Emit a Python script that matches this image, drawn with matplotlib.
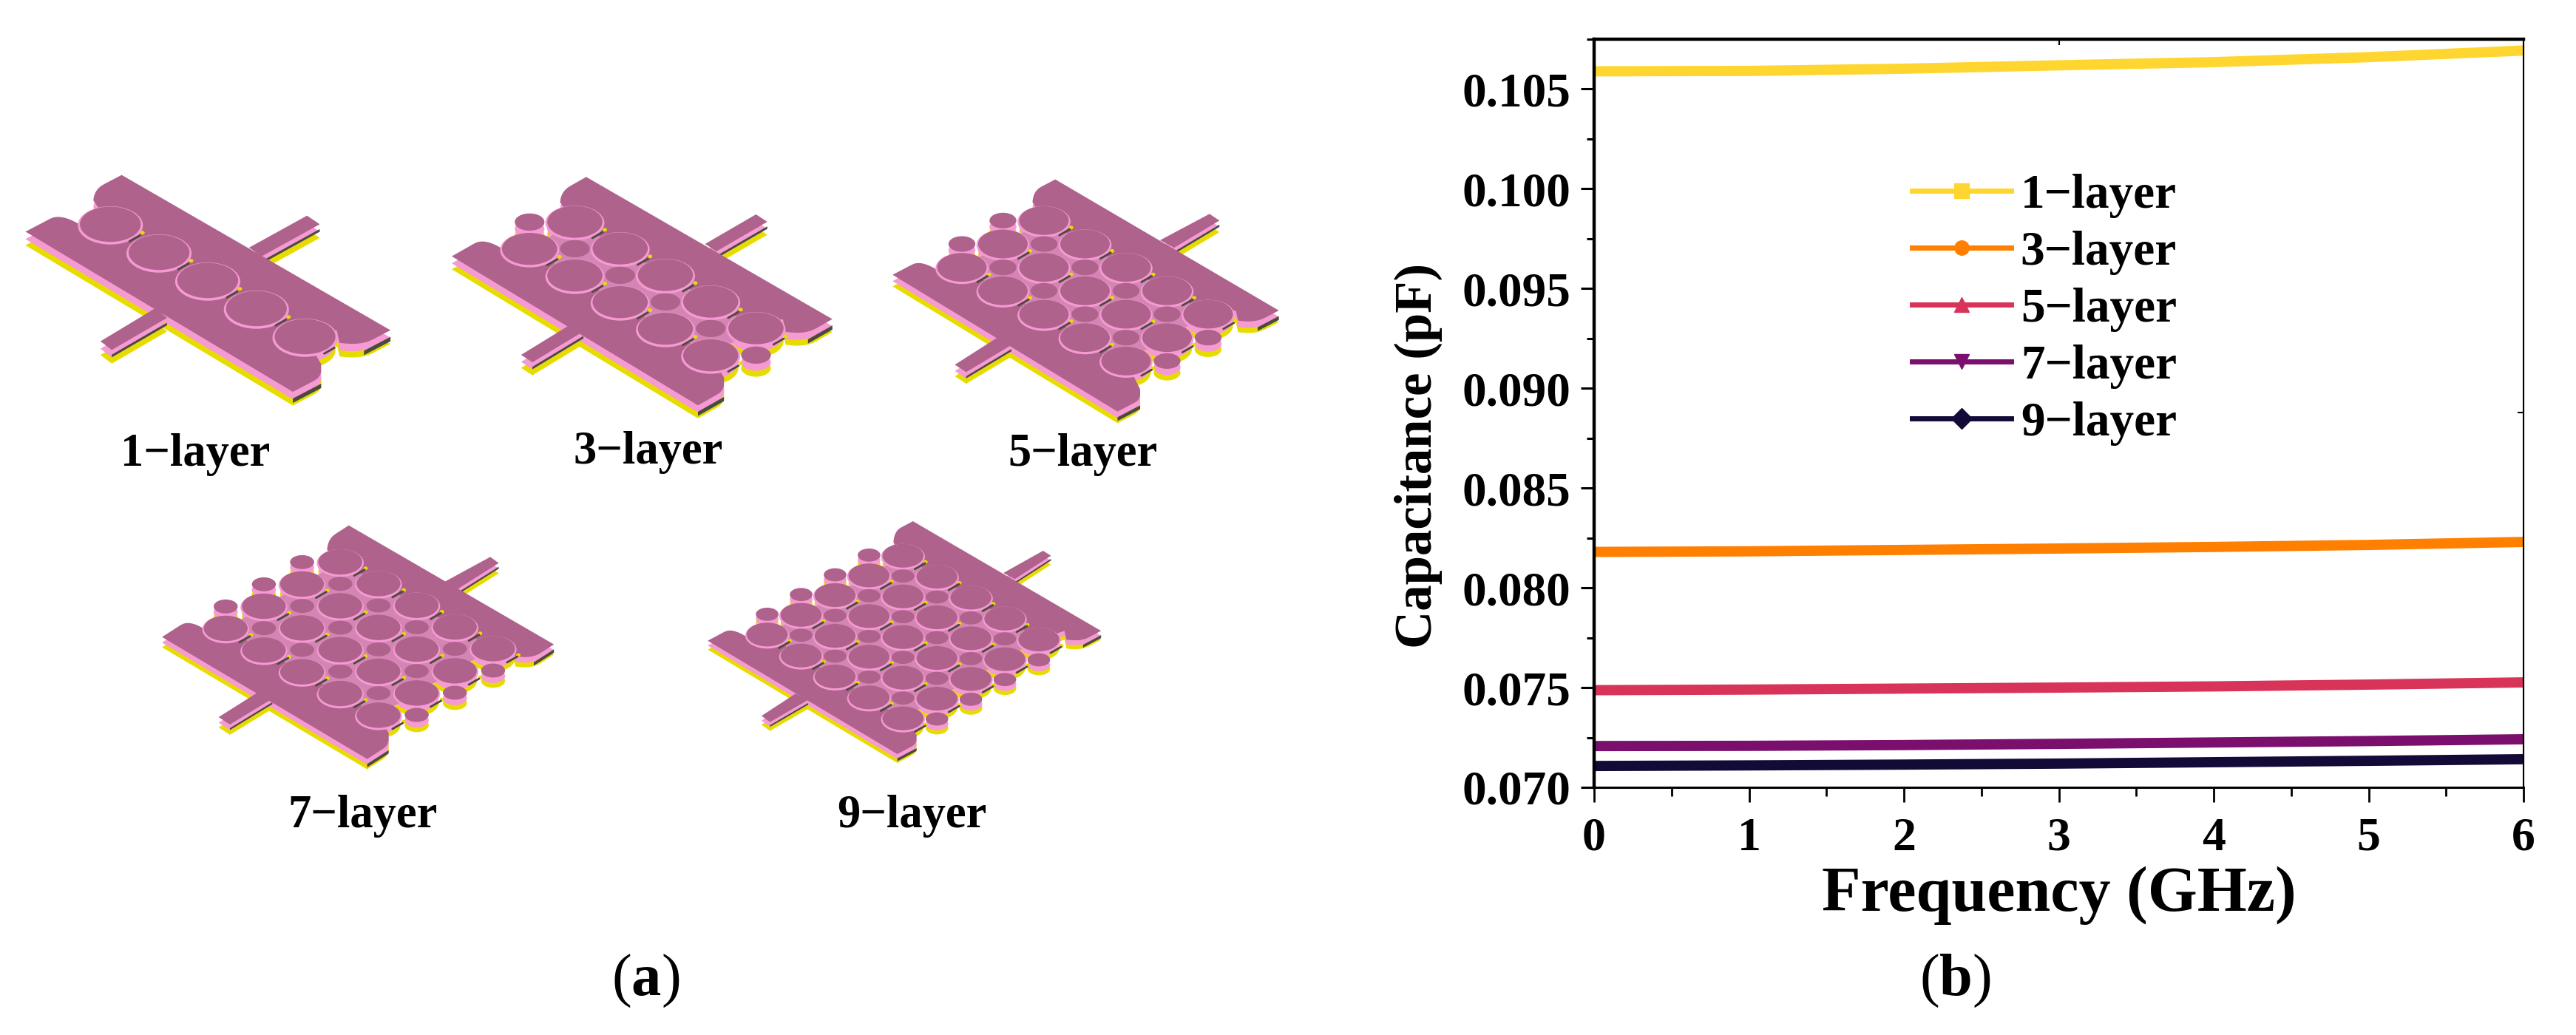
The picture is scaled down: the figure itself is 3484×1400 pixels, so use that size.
import numpy as np
import matplotlib
matplotlib.use("Agg")
import matplotlib.pyplot as plt
from matplotlib.lines import Line2D
from matplotlib.patches import Ellipse, Polygon
from matplotlib.ticker import MultipleLocator, FormatStrFormatter

plt.rcParams['font.family'] = ['Liberation Serif', 'DejaVu Serif']
plt.rcParams['mathtext.fontset'] = 'custom'
plt.rcParams['mathtext.bf'] = 'Liberation Serif:bold'
plt.rcParams['mathtext.rm'] = 'Liberation Serif'

# chart data
freq = [0, 1, 2, 3, 4, 5, 6]
layer_labels = ['1\u2212layer', '3\u2212layer', '5\u2212layer', '7\u2212layer', '9\u2212layer']
cap_1 = [0.10589, 0.10591, 0.10602, 0.10619, 0.10635, 0.10660, 0.10693]
cap_3 = [0.08180, 0.08183, 0.08190, 0.08197, 0.08205, 0.08215, 0.08230]
cap_5 = [0.07487, 0.07490, 0.07495, 0.07500, 0.07506, 0.07515, 0.07526]
cap_7 = [0.07207, 0.07208, 0.07212, 0.07218, 0.07225, 0.07232, 0.07241]
cap_9 = [0.07107, 0.07110, 0.07114, 0.07119, 0.07126, 0.07133, 0.07141]
caps = [cap_1, cap_3, cap_5, cap_7, cap_9]

colors = ['#FFD62F', '#FF7F00', '#D83358', '#7A0F6E', '#140A38']
markers = ['s', 'o', '^', 'v', 'D']

MAUVE = '#AF628C'
PINK = '#F59AD2'
GAP = '#D585B4'
YELLOW = '#E6DC00'
DARK = '#4B4A3E'

# schematic outlines, measured on the reference
boards = [
    dict(org=(0, 200), L=(90, 340), T=(430, 110), R=(1380, 740), B=(1035, 990),
         base=(390, 310), S=(172, 114), Tv=(172, -114), rows=0, big=215, small=0,
         f=(125, -75), t=10,
         fb=[(550, 650), (355, 785), (395, 820), (590, 690)],
         ft=[(880, 405), (1085, 275), (1130, 310), (925, 440)]),
    dict(org=(590, 210), L=(55, 410), T=(530, 88), R=(1400, 665), B=(925, 1015),
         base=(330, 380), S=(160, 108), Tv=(160, -110), rows=1, big=195, small=105,
         f=(115, -75), t=9.5,
         fb=[(470, 690), (300, 810), (340, 840), (520, 715)],
         ft=[(950, 360), (1130, 240), (1170, 270), (990, 390)]),
    dict(org=(1190, 210), L=(45, 485), T=(620, 98), R=(1410, 630), B=(840, 1040),
         base=(290, 455), S=(145, 95), Tv=(145, -95), rows=2, big=175, small=95,
         f=(100, -60), t=8.5,
         fb=[(415, 740), (265, 850), (305, 880), (465, 770)],
         ft=[(990, 345), (1165, 238), (1200, 265), (1040, 375)]),
    dict(org=(200, 690), L=(50, 515), T=(710, 62), R=(1435, 545), B=(775, 1010),
         base=(275, 480), S=(135, 88), Tv=(135, -90), rows=3, big=155, small=85,
         f=(95, -70), t=7.5,
         fb=[(395, 735), (250, 840), (290, 870), (440, 765)],
         ft=[(1050, 290), (1210, 190), (1240, 215), (1095, 320)]),
    dict(org=(940, 690), L=(45, 530), T=(770, 45), R=(1435, 490), B=(715, 990),
         base=(255, 505), S=(120, 85), Tv=(120, -80), rows=4, big=145, small=80,
         f=(85, -52), t=6.5,
         fb=[(355, 745), (235, 835), (265, 860), (400, 770)],
         ft=[(1090, 255), (1230, 165), (1258, 185), (1130, 280)]),
]
label_pos = [(264, 615), (877, 612), (1464, 615), (491, 1104), (1233, 1104)]


def bez(p0, c, p2, n=8):
    s = np.linspace(0, 1, n)[:, None]
    return (1 - s) ** 2 * p0 + 2 * s * (1 - s) * c + s ** 2 * p2


def draw_board(ax, b):
    org = np.array(b['org'], float)
    scale = np.array([2.613, 3.0])

    def px(p):
        return org + np.array(p, float) / scale

    L, T, R, B = px(b['L']), px(b['T']), px(b['R']), px(b['B'])
    base, S, Tv = px(b['base']), np.array(b['S']) / scale, np.array(b['Tv']) / scale
    f = np.array(b['f']) / scale
    U = B - L
    t = b['t']
    rows = b['rows']

    first0, last0 = base, base + 4 * S
    firstJ, lastJ = base + rows * Tv, base + 4 * S + rows * Tv

    # lower and upper strips with rounded fingers
    tip = L + f
    lr = B + 0.8 * f
    lower = np.vstack([L, L + 0.7 * f, bez(L + 0.7 * f, tip, tip + U * 0.07), first0, last0,
                       lr + f * [0, 1.0] * 0.7, bez(lr + f * [0, 0.4], lr, B + 0.6 * f), B])
    tip2 = T - 0.78 * f
    upper = np.vstack([T, T - 0.5 * f, bez(T - 0.5 * f, tip2, tip2 + np.array([-1, 15])), firstJ, lastJ,
                       R - f * [1.52, 0], bez(R - f * [1.44, 0.68], R - 0.85 * f, R - 0.5 * f), R])
    feeds = [np.array([px(p) for p in b['fb']]), np.array([px(p) for p in b['ft']])]
    polys = [feeds[0], feeds[1], lower, upper]

    rb = b['big'] / 2.613
    rs = b['small'] / 2.613
    bigs = [base + i * S + j * Tv for j in range(rows + 1) for i in range(5)]
    smalls = [base + (i + 0.5) * S + (j + 0.5) * Tv for j in range(rows) for i in range(-1, 5)]

    # side walls
    for k, col in [(1.85, YELLOW), (1.0, PINK)]:
        off = np.array([0, k * t])
        for p in polys:
            ax.add_patch(Polygon(p + off, closed=True, fc=col, ec='none'))
        for c in bigs:
            ax.add_patch(Ellipse(c + off, rb, rb * 0.58, fc=col, ec='none'))
        for c in smalls:
            ax.add_patch(Ellipse(c + off, rs, rs * 0.58, fc=col, ec='none'))

    # dark end faces on the sides looking right
    for p0, p1 in [(B, B + 0.8 * f), (R, R - 0.75 * f)]:
        face = np.array([p0 + [0, 0.9 * t], p1 + [0, 0.9 * t], p1 + [0, 1.5 * t], p0 + [0, 1.5 * t]])
        ax.add_patch(Polygon(face, closed=True, fc=DARK, ec='none'))
    for fd in feeds:
        face = np.array([fd[2] + [0, 0.65 * t], fd[3] + [0, 0.65 * t], fd[3] + [0, 1.0 * t], fd[2] + [0, 1.0 * t]])
        ax.add_patch(Polygon(face, closed=True, fc=DARK, ec='none'))

    for p in polys:
        ax.add_patch(Polygon(p, closed=True, fc=MAUVE, ec='none'))

    if rows > 0:
        ax.add_patch(Polygon(np.array([first0, last0, lastJ, firstJ]), closed=True, fc=GAP, ec='none'))

    # rings and small gaps round the islands
    for c in bigs:
        ax.add_patch(Ellipse(c + [0, 1.5], rb * 1.07, rb * 0.63, fc=PINK, ec='none'))
    for c in bigs:
        gap = c + 0.5 * S
        ax.plot([gap[0] - 7, gap[0] + 7], [gap[1] + 4, gap[1] - 4], color=DARK, lw=2.0, solid_capstyle='round')
        g2 = c + S * [0.66, 0.3]
        ax.add_patch(Ellipse(g2, 6, 5, fc=YELLOW, ec='none'))
    for c in smalls:
        ax.add_patch(Ellipse(c, rs, rs * 0.58, fc=MAUVE, ec='none'))
    for c in bigs:
        ax.add_patch(Ellipse(c, rb, rb * 0.58, fc=MAUVE, ec='none'))


fig = plt.figure(figsize=(34.84, 14), dpi=100)
W, H = 3484.0, 1400.0

# left panel drawn in picture pixels
ax0 = fig.add_axes([0, 0, 1, 1])
ax0.set_xlim(0, W)
ax0.set_ylim(H, 0)
ax0.axis('off')
for b in boards:
    draw_board(ax0, b)
for lab, (x, y) in zip(layer_labels, label_pos):
    ax0.text(x, y, lab, fontsize=45, fontweight='bold', ha='center', va='center')
ax0.text(873, 1327, r'($\mathbf{a}$)', fontsize=58, ha='center', va='center')
ax0.text(2644, 1327, r'($\mathbf{b}$)', fontsize=58, ha='center', va='center')

# right panel
left, right, top, bottom = 2156, 3413, 53, 1065
ax = fig.add_axes([left / W, 1 - bottom / H, (right - left) / W, (bottom - top) / H])
for vals, col in zip(caps, colors):
    ax.plot(freq, vals, color=col, lw=10, solid_capstyle='butt')
ax.set_xlim(0, 6)
ax.set_ylim(0.07, 0.1075)
ax.xaxis.set_major_locator(MultipleLocator(1))
ax.xaxis.set_minor_locator(MultipleLocator(0.5))
ax.yaxis.set_major_locator(MultipleLocator(0.005))
ax.yaxis.set_minor_locator(MultipleLocator(0.0025))
ax.yaxis.set_major_formatter(FormatStrFormatter('%.3f'))
ax.xaxis.set_major_formatter(FormatStrFormatter('%d'))
ax.tick_params(axis='x', which='major', length=14.5, width=2, pad=15, labelsize=46)
ax.tick_params(axis='x', which='minor', length=8.5, width=2)
ax.tick_params(axis='y', which='major', length=13, width=2.2, pad=10, labelsize=47)
ax.tick_params(axis='y', which='minor', length=7, width=2.2)
for lab in ax.get_xticklabels() + ax.get_yticklabels():
    lab.set_fontweight('bold')
ax.spines['left'].set_linewidth(3.2)
ax.spines['top'].set_linewidth(3.2)
ax.spines['bottom'].set_linewidth(2.2)
ax.spines['right'].set_linewidth(1.5)

top_ax = ax.secondary_xaxis('top')
top_ax.set_xticks([3])
top_ax.set_xticklabels([''])
top_ax.tick_params(direction='in', length=6, width=1.5)
right_ax = ax.secondary_yaxis('right')
right_ax.set_yticks([0.0888])
right_ax.set_yticklabels([''])
right_ax.tick_params(direction='in', length=6, width=1.5)

ax.set_xlabel('Frequency (GHz)', fontsize=62, fontweight='bold', labelpad=6)
ax.xaxis.set_label_coords(0.5, -0.105)
ax0.text(1918, 616, 'Capacitance (pF)', fontsize=51, fontweight='bold', rotation=90, ha='center', va='center')

handles = [Line2D([], [], color=c, lw=5, marker=m, ms=14) for c, m in zip(colors, markers)]
ax.legend(handles, layer_labels, loc='upper left', bbox_to_anchor=(0.342, 0.82), frameon=False,
          prop={'size': 47, 'weight': 'bold'}, handlelength=2.05, handletextpad=0.2,
          labelspacing=0.26, borderpad=0, borderaxespad=0)

fig.savefig('out.png', dpi=100, facecolor='white')
